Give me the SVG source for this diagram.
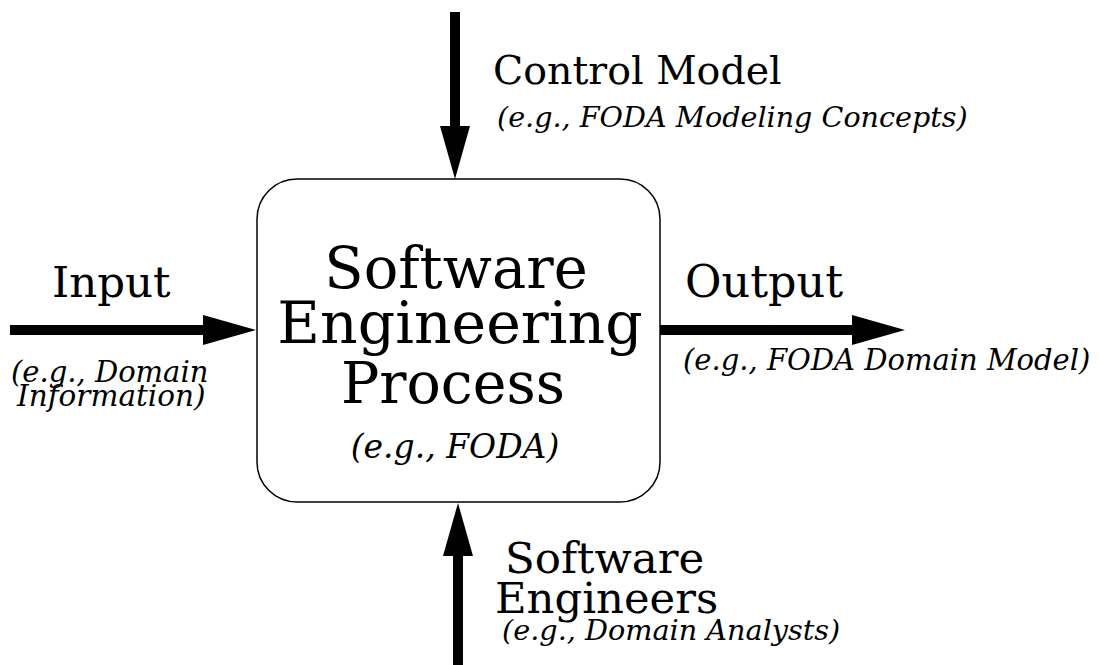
<svg xmlns="http://www.w3.org/2000/svg" width="1101" height="665" viewBox="0 0 1101 665">
<style>
.t{font-family:"DejaVu Serif","Liberation Serif",serif;fill:#000}
.i{font-family:"DejaVu Serif","Liberation Serif",serif;font-style:italic;fill:#000}
.c{stroke:#000;stroke-width:10;fill:none}
</style>
<defs>
<marker id="ah" markerUnits="userSpaceOnUse" markerWidth="54" markerHeight="30" refX="0" refY="15" orient="auto" overflow="visible">
<path d="M0,0 L53,15 L0,30 z" fill="#000"/>
</marker>
</defs>
<rect width="1101" height="665" fill="#fff"/>
<g id="connectors">
<line class="c" x1="10" y1="330" x2="203" y2="330" marker-end="url(#ah)"/>
<line class="c" x1="660" y1="330" x2="852" y2="330" marker-end="url(#ah)"/>
<line class="c" x1="455" y1="12" x2="455" y2="126" marker-end="url(#ah)"/>
<line class="c" x1="458" y1="665" x2="458" y2="556" marker-end="url(#ah)"/>
</g>
<g id="process">
<rect x="257" y="179" width="403" height="323" rx="40" ry="40" fill="#fff" stroke="#000" stroke-width="1.5"/>
<text class="t" x="456" y="288" font-size="57.5" text-anchor="middle">Software</text>
<text class="t" x="460" y="343" font-size="58.5" text-anchor="middle">Engineering</text>
<text class="t" x="453" y="403" font-size="57" text-anchor="middle">Process</text>
<text class="i" x="455" y="458" font-size="33" text-anchor="middle">(e.g., FODA)</text>
</g>
<g id="control">
<text class="t" x="493" y="84" font-size="39.5">Control Model</text>
<text class="i" x="497" y="127" font-size="28.6">(e.g., FODA Modeling Concepts)</text>
</g>
<g id="input">
<text class="t" x="52" y="297" font-size="43.5">Input</text>
<text class="i" x="11" y="382" font-size="29">(e.g., Domain</text>
<text class="i" x="17" y="406" font-size="29.5">Information)</text>
</g>
<g id="output">
<text class="t" x="685" y="297" font-size="44.5">Output</text>
<text class="i" x="683" y="370" font-size="29">(e.g., FODA Domain Model)</text>
</g>
<g id="engineers">
<text class="t" x="505" y="573" font-size="43.5">Software</text>
<text class="t" x="495" y="613" font-size="43.3">Engineers</text>
<text class="i" x="502" y="640" font-size="28.7">(e.g., Domain Analysts)</text>
</g>
</svg>
